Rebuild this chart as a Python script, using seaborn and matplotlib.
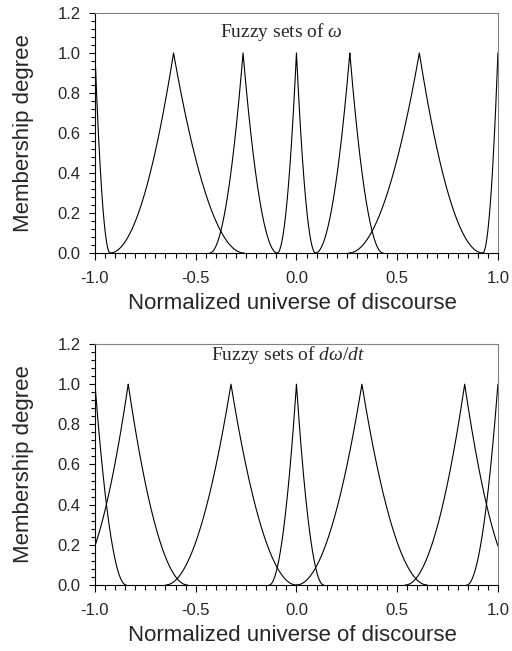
import numpy as np
import pandas as pd
import matplotlib
matplotlib.use("Agg")
import matplotlib.pyplot as plt
from matplotlib.ticker import MultipleLocator
import seaborn as sns

# Fuzzy sets of omega: centers, left half-widths, right half-widths
w_centers = [-1.0, -0.61, -0.265, 0.0, 0.265, 0.61, 1.0]
w_left = [0.0, 0.315, 0.165, 0.095, 0.17, 0.35, 0.075]
w_right = [0.075, 0.35, 0.17, 0.095, 0.165, 0.315, 0.0]

# Fuzzy sets of domega/dt
d_centers = [-1.0, -0.835, -0.325, 0.0, 0.325, 0.835, 1.0]
d_left = [0.0, 0.295, 0.325, 0.135, 0.325, 0.295, 0.155]
d_right = [0.155, 0.295, 0.325, 0.135, 0.325, 0.295, 0.0]

x_ticks = [-1.0, -0.5, 0.0, 0.5, 1.0]
y_ticks = [0.0, 0.2, 0.4, 0.6, 0.8, 1.0, 1.2]
titles = [r"Fuzzy sets of $\omega$", r"Fuzzy sets of $d\omega/dt$"]
xlabel = "Normalized universe of discourse"
ylabel = "Membership degree"


def build(centers, lefts, rights):
    rows = []
    for i, (c, l, r) in enumerate(zip(centers, lefts, rights)):
        if l > 0:
            xs = np.linspace(max(c - l, -1.0), c, 200)
            ys = (1 - (c - xs) / l) ** 2
            rows += [(x, y, i) for x, y in zip(xs, ys)]
        if r > 0:
            xs = np.linspace(c, min(c + r, 1.0), 200)
            ys = (1 - (xs - c) / r) ** 2
            rows += [(x, y, i) for x, y in zip(xs, ys)]
    return pd.DataFrame(rows, columns=["x", "mu", "set"])


sns.set_style("ticks")
plt.rcParams["font.family"] = ["Liberation Sans", "DejaVu Sans"]
plt.rcParams["mathtext.fontset"] = "custom"
plt.rcParams["mathtext.rm"] = "Liberation Serif"
plt.rcParams["mathtext.it"] = "Liberation Serif:italic"

fig = plt.figure(figsize=(5.12, 6.51), dpi=100)
ax1 = fig.add_axes([0.1855, 0.6114, 0.787, 0.3687])
ax2 = fig.add_axes([0.1855, 0.1014, 0.787, 0.3702])

datasets = [build(w_centers, w_left, w_right), build(d_centers, d_left, d_right)]
title_pos = [(0.4615, 1.08), (0.48, 1.12)]

for ax, df, title, tp in zip([ax1, ax2], datasets, titles, title_pos):
    sns.lineplot(data=df, x="x", y="mu", units="set", estimator=None,
                 color="black", lw=0.8, ax=ax, sort=False)
    ax.set_xlim(-1.0, 1.0)
    ax.set_ylim(0.0, 1.2)
    ax.set_xticks(x_ticks)
    ax.set_xticklabels([f"{t:.1f}" for t in x_ticks])
    ax.set_yticks(y_ticks)
    ax.set_yticklabels([f"{t:.1f}" for t in y_ticks])
    ax.xaxis.set_minor_locator(MultipleLocator(0.05))
    ax.yaxis.set_minor_locator(MultipleLocator(0.04))
    ax.tick_params(axis="x", which="major", direction="out", length=5,
                   width=0.8, labelsize=12, color="black", pad=8)
    ax.tick_params(axis="x", which="minor", direction="out", length=3.5,
                   width=0.8, color="black")
    ax.tick_params(axis="y", which="major", direction="out", length=4.3,
                   width=0.8, labelsize=12, color="black", pad=6)
    ax.tick_params(axis="y", which="minor", direction="out", length=2.8,
                   width=0.8, color="black")
    for s in ["left", "bottom"]:
        ax.spines[s].set_color("black")
        ax.spines[s].set_linewidth(0.8)
    for s in ["top", "right"]:
        ax.spines[s].set_visible(True)
        ax.spines[s].set_color("#808080")
        ax.spines[s].set_linewidth(0.8)
    ax.set_xlabel(xlabel, fontsize=16)
    ax.set_ylabel(ylabel, fontsize=16)
    ax.xaxis.set_label_coords(0.49, -0.165)
    ax.yaxis.set_label_coords(-0.151, 0.5)
    ax.text(tp[0], tp[1], title, transform=ax.get_yaxis_transform(),
            ha="center", va="baseline", fontsize=14, family="Liberation Serif")
    ax.set_facecolor("white")

fig.savefig("out.png", dpi=100, facecolor="white")
